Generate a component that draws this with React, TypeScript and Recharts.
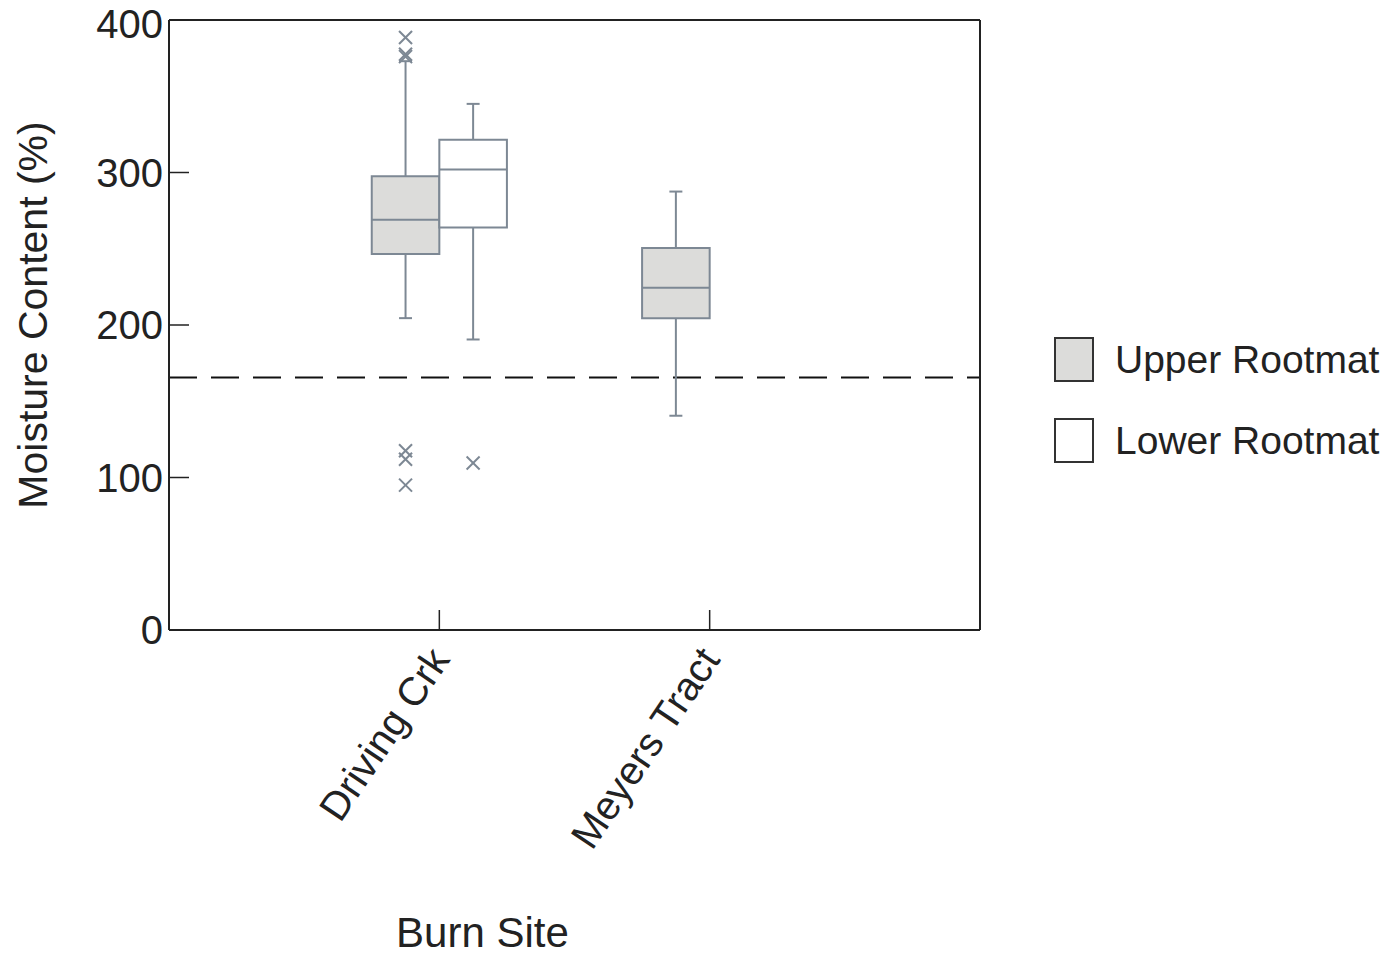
import React from 'react';
import {
    ComposedChart,
    XAxis,
    YAxis,
    Scatter,
    ReferenceArea,
    ReferenceLine,
    Legend
} from 'recharts';

const sites = ['Driving Crk', 'Meyers Tract'];
const groups = ['Upper Rootmat', 'Lower Rootmat'];
const groupFills = ['#dcdcda', '#ffffff'];

// one entry per box
const boxSite = [0, 0, 1];
const boxGroup = [0, 1, 0];
const whiskerLow = [204.5, 190.5, 140.5];
const quartile1 = [246.5, 264, 204.5];
const medians = [269, 302, 224.5];
const quartile3 = [297.5, 321.5, 250.5];
const whiskerHigh = [373, 345, 287.5];

// outliers
const outlierSite = [0, 0, 0, 0, 0, 0, 0];
const outlierGroup = [0, 0, 0, 0, 0, 0, 1];
const outlierValues = [388.5, 377.5, 376, 117.5, 112, 95, 109.5];

const yTicks = [0, 100, 200, 300, 400];
const siteTicks = [1, 2];
const threshold = 165.5;

const font = '"Liberation Sans", Arial, sans-serif';
const textColor = '#222';
const axisColor = '#222';
const boxStroke = '#7d8894';

const boxCenter = (site: number, group: number) => site + 1 + (group === 0 ? -0.125 : 0.125);

const boxes = boxSite.map((s, i) => ({
    xc: boxCenter(s, boxGroup[i]),
    lo: whiskerLow[i],
    q1: quartile1[i],
    med: medians[i],
    q3: quartile3[i],
    hi: whiskerHigh[i],
    fill: groupFills[boxGroup[i]]
}));

const outlierData = outlierValues.map((v, i) => ({
    x: boxCenter(outlierSite[i], outlierGroup[i]),
    y: v
}));

const OutlierMark = (props: any) => {
    const { cx, cy } = props;
    const s = 6.5;
    return (
        <g stroke={boxStroke} strokeWidth={2} fill="none">
            <line x1={cx - s} y1={cy - s} x2={cx + s} y2={cy + s} />
            <line x1={cx - s} y1={cy + s} x2={cx + s} y2={cy - s} />
        </g>
    );
};

const SiteTick = (props: any) => {
    const { x, y, payload } = props;
    return (
        <text
            x={x}
            y={y}
            dy="0.35em"
            textAnchor="end"
            transform={`rotate(-56, ${x}, ${y})`}
            fontSize={40}
            fontFamily={font}
            fill={textColor}>
            {sites[payload.value - 1]}
        </text>
    );
};

const ValueTick = (props: any) => {
    const { x, y, payload } = props;
    // keep the top label inside the page
    const shift = payload.value === 400 ? 4 : 0;
    return (
        <text x={x} y={y + shift} dy="0.355em" textAnchor="end" fontSize={40} fontFamily={font} fill={textColor}>
            {payload.value}
        </text>
    );
};

const LegendBox = () => (
    <div style={{ position: 'relative', width: 340, height: 130, fontFamily: font, fontSize: 39, color: textColor }}>
        {groups.map((g, i) => (
            <div key={g} style={{ position: 'absolute', left: 0, top: i * 81, height: 44, display: 'flex', alignItems: 'center' }}>
                <div style={{ width: 36, height: 41, border: '2px solid #333', background: groupFills[i], boxSizing: 'content-box' }} />
                <span style={{ marginLeft: 21, lineHeight: 1, whiteSpace: 'nowrap' }}>{g}</span>
            </div>
        ))}
    </div>
);

const App = () => {
    return (
        <div style={{ position: 'absolute', left: 0, top: 0, fontFamily: font }}>
            <ComposedChart width={1395} height={955} margin={{ top: 0, right: 405, bottom: 0, left: 0 }}>
                <XAxis
                    dataKey="x"
                    type="number"
                    domain={[0, 3]}
                    ticks={siteTicks}
                    interval={0}
                    tickSize={-20}
                    tickMargin={42}
                    height={325}
                    axisLine={{ stroke: axisColor, strokeWidth: 2 }}
                    tickLine={{ stroke: axisColor, strokeWidth: 1.5 }}
                    tick={<SiteTick />}
                    label={{ value: 'Burn Site', position: 'insideBottom', offset: 8, dx: -92, fontSize: 42, fill: textColor, fontFamily: font }}
                />
                <XAxis
                    xAxisId="top"
                    orientation="top"
                    dataKey="x"
                    type="number"
                    domain={[0, 3]}
                    ticks={siteTicks}
                    tickSize={-20}
                    height={20}
                    tick={false}
                    axisLine={{ stroke: axisColor, strokeWidth: 2 }}
                    tickLine={{ stroke: axisColor, strokeWidth: 1.5 }}
                />
                <YAxis
                    type="number"
                    domain={[0, 400]}
                    ticks={yTicks}
                    interval={0}
                    width={169}
                    tickSize={-20}
                    tickMargin={26}
                    axisLine={{ stroke: axisColor, strokeWidth: 2 }}
                    tickLine={{ stroke: axisColor, strokeWidth: 1.5 }}
                    tick={<ValueTick />}
                    label={{ value: 'Moisture Content (%)', angle: -90, position: 'center', dx: -52, dy: -10, fontSize: 41, fill: textColor, fontFamily: font }}
                />
                <YAxis
                    yAxisId="right"
                    orientation="right"
                    type="number"
                    domain={[0, 400]}
                    ticks={yTicks}
                    width={10}
                    tickSize={-20}
                    tick={false}
                    axisLine={{ stroke: axisColor, strokeWidth: 2 }}
                    tickLine={{ stroke: axisColor, strokeWidth: 1.5 }}
                />

                <ReferenceLine y={threshold} stroke="#111" strokeWidth={2} strokeDasharray="28 14" />

                {boxes.map((b, i) => (
                    <ReferenceArea
                        key={`box-${i}`}
                        x1={b.xc - 0.125}
                        x2={b.xc + 0.125}
                        y1={b.q1}
                        y2={b.q3}
                        fill={b.fill}
                        fillOpacity={1}
                        stroke={boxStroke}
                        strokeWidth={2}
                    />
                ))}
                {boxes.map((b, i) => (
                    <ReferenceLine key={`med-${i}`} segment={[{ x: b.xc - 0.125, y: b.med }, { x: b.xc + 0.125, y: b.med }]} stroke={boxStroke} strokeWidth={2} />
                ))}
                {boxes.map((b, i) => (
                    <ReferenceLine key={`wh-${i}`} segment={[{ x: b.xc, y: b.q3 }, { x: b.xc, y: b.hi }]} stroke={boxStroke} strokeWidth={2} />
                ))}
                {boxes.map((b, i) => (
                    <ReferenceLine key={`wl-${i}`} segment={[{ x: b.xc, y: b.q1 }, { x: b.xc, y: b.lo }]} stroke={boxStroke} strokeWidth={2} />
                ))}
                {boxes.map((b, i) => (
                    <ReferenceLine key={`ch-${i}`} segment={[{ x: b.xc - 0.024, y: b.hi }, { x: b.xc + 0.024, y: b.hi }]} stroke={boxStroke} strokeWidth={2} />
                ))}
                {boxes.map((b, i) => (
                    <ReferenceLine key={`cl-${i}`} segment={[{ x: b.xc - 0.024, y: b.lo }, { x: b.xc + 0.024, y: b.lo }]} stroke={boxStroke} strokeWidth={2} />
                ))}

                <Scatter data={outlierData} dataKey="y" shape={<OutlierMark />} isAnimationActive={false} />

                <Legend
                    layout="horizontal"
                    verticalAlign="middle"
                    align="center"
                    content={<LegendBox />}
                    wrapperStyle={{ left: 1054, top: 337, width: 340 }}
                />
            </ComposedChart>
        </div>
    );
};

export default App;
